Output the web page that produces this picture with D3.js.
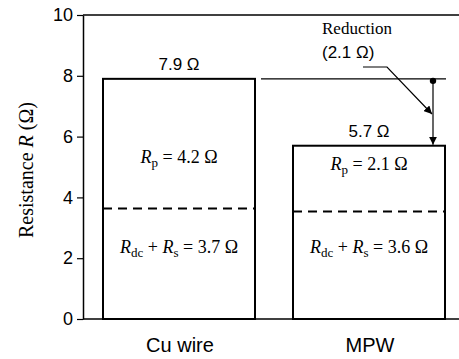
<!DOCTYPE html>
<html>
<head>
<meta charset="utf-8">
<script src="https://cdn.jsdelivr.net/npm/d3@7"></script>
<style>
  body { margin: 0; background: #fff; }
  svg { display: block; }
</style>
</head>
<body>
<script>
// chart data
var categories = ["Cu wire", "MPW"];
var totalR = [7.9, 5.7];
var rp = [4.2, 2.1];
var rdcRs = [3.7, 3.6];
var reduction = 2.1;
var yTicks = [0, 2, 4, 6, 8, 10];

var width = 459, height = 359;
var plotLeft = 83, plotTop = 15, plotBottom = 319;

var svg = d3.select("body")
    .append("svg")
    .attr("width", width)
    .attr("height", height);

var y = d3.scaleLinear().domain([0, 10]).range([plotBottom, plotTop]);
var x = d3.scaleBand().domain(categories).range([103, 445]).paddingInner(0.2);

var sans = "'Liberation Sans', Arial, sans-serif";
var serif = "'Liberation Serif', 'Times New Roman', serif";

// frame: left axis, bottom line, top line (no right side)
var yAxis = d3.axisLeft(y).tickValues(yTicks).tickSize(6).tickPadding(4).tickSizeOuter(0);
var ga = svg.append("g")
    .attr("transform", "translate(" + plotLeft + ",0)")
    .call(yAxis);
ga.select(".domain").attr("stroke-width", 1.5);
ga.selectAll(".tick line").attr("stroke-width", 1.2);
ga.selectAll(".tick text")
    .attr("font-family", sans)
    .attr("font-size", 18)
    .attr("fill", "#000");

svg.append("line")
    .attr("x1", plotLeft).attr("x2", width)
    .attr("y1", plotBottom).attr("y2", plotBottom)
    .attr("stroke", "#000").attr("stroke-width", 1.5);
svg.append("line")
    .attr("x1", plotLeft).attr("x2", width)
    .attr("y1", plotTop).attr("y2", plotTop)
    .attr("stroke", "#000").attr("stroke-width", 1.5);

// y label
svg.append("text")
    .attr("transform", "translate(33," + ((plotTop + plotBottom) / 2 + 3) + ") rotate(-90)")
    .attr("text-anchor", "middle")
    .attr("font-family", serif)
    .attr("font-size", 20)
    .call(t => {
        t.append("tspan").text("Resistance ");
        t.append("tspan").attr("font-style", "italic").text("R");
        t.append("tspan").text(" (\u03A9)");
    });

// bars
svg.selectAll("rect.bar")
    .data(categories)
    .join("rect")
    .attr("class", "bar")
    .attr("x", d => x(d))
    .attr("width", x.bandwidth())
    .attr("y", (d, i) => y(totalR[i]))
    .attr("height", (d, i) => plotBottom - y(totalR[i]))
    .attr("fill", "none")
    .attr("stroke", "#000")
    .attr("stroke-width", 2);

// dashed split lines
svg.selectAll("line.split")
    .data(categories)
    .join("line")
    .attr("class", "split")
    .attr("x1", d => x(d))
    .attr("x2", d => x(d) + x.bandwidth())
    .attr("y1", (d, i) => y(rdcRs[i]) + 2)
    .attr("y2", (d, i) => y(rdcRs[i]) + 2)
    .attr("stroke", "#000")
    .attr("stroke-width", 2)
    .attr("stroke-dasharray", "9,6");

// total labels above bars
svg.selectAll("text.total")
    .data(categories)
    .join("text")
    .attr("class", "total")
    .attr("x", d => x(d) + x.bandwidth() / 2)
    .attr("y", (d, i) => y(totalR[i]) - 9)
    .attr("text-anchor", "middle")
    .attr("font-family", sans)
    .attr("font-size", 17)
    .text((d, i) => totalR[i].toFixed(1) + " \u03A9");

// Rp labels
var rpOffset = [84, 24];
svg.selectAll("text.rp")
    .data(categories)
    .join("text")
    .attr("class", "rp")
    .attr("x", d => x(d) + x.bandwidth() / 2)
    .attr("y", (d, i) => y(totalR[i]) + rpOffset[i])
    .attr("text-anchor", "middle")
    .attr("font-family", serif)
    .attr("font-size", 18)
    .each(function(d, i) {
        var t = d3.select(this);
        t.append("tspan").attr("font-style", "italic").text("R");
        t.append("tspan").attr("font-size", 13).attr("dy", 4).text("p");
        t.append("tspan").attr("dy", -4).text(" = " + rp[i].toFixed(1) + " \u03A9");
    });

// Rdc + Rs labels
svg.selectAll("text.rdc")
    .data(categories)
    .join("text")
    .attr("class", "rdc")
    .attr("x", d => x(d) + x.bandwidth() / 2)
    .attr("y", 253)
    .attr("text-anchor", "middle")
    .attr("font-family", serif)
    .attr("font-size", 18)
    .each(function(d, i) {
        var t = d3.select(this);
        t.append("tspan").attr("font-style", "italic").text("R");
        t.append("tspan").attr("font-size", 13).attr("dy", 4).text("dc");
        t.append("tspan").attr("dy", -4).text(" + ");
        t.append("tspan").attr("font-style", "italic").text("R");
        t.append("tspan").attr("font-size", 13).attr("dy", 4).text("s");
        t.append("tspan").attr("dy", -4).text(" = " + rdcRs[i].toFixed(1) + " \u03A9");
    });

// category labels
svg.selectAll("text.cat")
    .data(categories)
    .join("text")
    .attr("class", "cat")
    .attr("x", d => x(d) + x.bandwidth() / 2 + 1)
    .attr("y", 352)
    .attr("text-anchor", "middle")
    .attr("font-family", sans)
    .attr("font-size", 20)
    .text(d => d);

// reduction annotation
var defs = svg.append("defs");
defs.append("marker")
    .attr("id", "arrow")
    .attr("viewBox", "0 0 10 10")
    .attr("refX", 10).attr("refY", 5)
    .attr("markerWidth", 8).attr("markerHeight", 8)
    .attr("markerUnits", "userSpaceOnUse")
    .attr("orient", "auto")
    .append("path")
    .attr("d", "M0,0L10,5L0,10z")
    .attr("fill", "#000");

var yHigh = y(totalR[0]);
var yLow = y(totalR[1]);
var ax = x("MPW") + x.bandwidth() - 12;

svg.append("line")
    .attr("x1", x("Cu wire") + x.bandwidth() + 6)
    .attr("x2", x("MPW") + x.bandwidth() + 1)
    .attr("y1", yHigh).attr("y2", yHigh)
    .attr("stroke", "#000").attr("stroke-width", 1.2);

svg.append("line")
    .attr("x1", ax).attr("x2", ax)
    .attr("y1", yHigh + 2).attr("y2", yLow - 1)
    .attr("stroke", "#000").attr("stroke-width", 1.2)
    .attr("marker-end", "url(#arrow)");

svg.append("circle")
    .attr("cx", ax).attr("cy", yHigh + 2)
    .attr("r", 3.2)
    .attr("fill", "#000");

svg.append("polyline")
    .attr("points", [[363, 67], [387, 67], [ax - 1, 114]].map(p => p.join(",")).join(" "))
    .attr("fill", "none")
    .attr("stroke", "#000").attr("stroke-width", 1.2)
    .attr("marker-end", "url(#arrow)");

svg.append("text")
    .attr("x", 322).attr("y", 34)
    .attr("font-family", serif)
    .attr("font-size", 17)
    .text("Reduction");

svg.append("text")
    .attr("x", 322).attr("y", 58)
    .attr("font-family", sans)
    .attr("font-size", 17)
    .text("(" + reduction.toFixed(1) + " \u03A9)");
</script>
</body>
</html>
